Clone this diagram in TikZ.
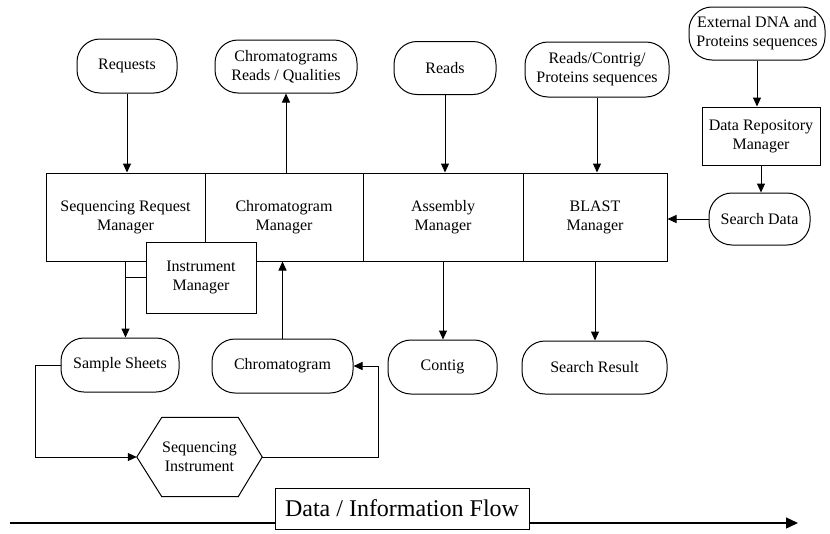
\documentclass[tikz,border=0pt]{standalone}
\usepackage{fontspec}
\setmainfont{Liberation Serif}
\usetikzlibrary{arrows.meta}

\tikzset{
  txt/.style={font=\fontsize{16}{19}\selectfont, align=center, inner sep=0pt},
  data/.style={txt, draw, line width=1pt, rounded corners=23pt},
  mgr/.style={txt, draw, line width=1pt, fill=white},
  link/.style={line width=1pt},
  flowto/.style={link, -{Triangle[length=9pt,width=8pt]}},
}

\begin{document}
\begin{tikzpicture}[x=1pt, y=-1pt]
  \useasboundingbox (0,0) rectangle (830,533);

  % data items along the top
  \node[data, minimum width=100pt, minimum height=54pt] (req) at (127,66) {Requests};
  \node[data, minimum width=142pt, minimum height=53pt] (chq) at (286,66.5) {Chromatograms\\Reads / Qualities};
  \node[data, minimum width=102pt, minimum height=53pt] (rds) at (445,68) {Reads};
  \node[data, minimum width=144pt, minimum height=55pt] (rcp) at (597,69.5) {Reads/Contrig/\\Proteins sequences};
  \node[data, minimum width=136pt, minimum height=53pt] (ext) at (757,33.5) {External DNA and\\Proteins sequences};

  % repository side
  \node[mgr, minimum width=118pt, minimum height=58pt] (drm) at (761,136) {Data Repository\\Manager};
  \node[data, minimum width=101pt, minimum height=52pt] (sd) at (759.5,219) {Search Data};

  % row of managers
  \node[mgr, minimum width=159pt, minimum height=88pt] (srm) at (125.5,217) {Sequencing Request\\Manager};
  \node[mgr, minimum width=158pt, minimum height=88pt] (cm) at (284,217) {Chromatogram\\Manager};
  \node[mgr, minimum width=160pt, minimum height=88pt] (am) at (443,217) {Assembly\\Manager};
  \node[mgr, minimum width=144pt, minimum height=88pt] (bm) at (595,217) {BLAST\\Manager};

  % lower data items
  \node[data, minimum width=118pt, minimum height=54pt] (ss) at (120,365) {Sample Sheets};
  \node[data, minimum width=141pt, minimum height=54pt] (chr) at (282.5,366) {Chromatogram};
  \node[data, minimum width=109pt, minimum height=54pt] (ctg) at (442.5,367) {Contig};
  \node[data, minimum width=145pt, minimum height=53pt] (sr) at (594.5,367.5) {Search Result};

  % sequencing instrument (hexagon)
  \node[txt, minimum width=125pt, minimum height=79pt] (si) at (199.5,457) {Sequencing\\Instrument};
  \draw[link] (si.west) -- ([xshift=25pt]si.north west) -- ([xshift=-24pt]si.north east)
    -- (si.east) -- ([xshift=-24pt]si.south east) -- ([xshift=25pt]si.south west) -- cycle;

  % connectors
  \draw[flowto] (req.south) -- (req.south |- srm.north);
  \draw[flowto] (chq.south |- cm.north) -- (chq.south);
  \draw[flowto] (rds.south) -- (rds.south |- am.north);
  \draw[flowto] (rcp.south) -- (rcp.south |- bm.north);
  \draw[flowto] (ext.south) -- (ext.south |- drm.north);
  \draw[flowto] (drm.south) -- (drm.south |- sd.north);
  \draw[flowto] (sd.west) -- (sd.west -| bm.east);
  \draw[flowto] (srm.south) -- (srm.south |- ss.north);
  \draw[flowto] (chr.north) -- (chr.north |- cm.south);
  \draw[flowto] (am.south) -- (am.south |- ctg.north);
  \draw[flowto] (bm.south) -- (bm.south |- sr.north);
  \draw[flowto] (ss.west) -- ++(-25,0) |- (si.west);
  \draw[flowto] (si.east) -- ++(116,0) |- (chr.east);

  % instrument manager, overlapping the manager row
  \node[mgr, minimum width=110pt, minimum height=71pt] (im) at (201,277.5) {Instrument\\Manager};
  \draw[link] (im.west) -- (im.west -| srm.south);

  % overall direction of flow
  \coordinate (fs) at (10,523);
  \coordinate (fe) at (798,523);
  \draw[line width=1.4pt, -{Triangle[length=12pt,width=11pt]}] (fs) -- (fe);
  \node[draw, fill=white, line width=1pt, inner sep=0pt, minimum width=254pt, minimum height=41pt,
        font=\fontsize{24}{28}\selectfont] (flow) at (402,508.5) {Data / Information Flow};
\end{tikzpicture}
\end{document}
